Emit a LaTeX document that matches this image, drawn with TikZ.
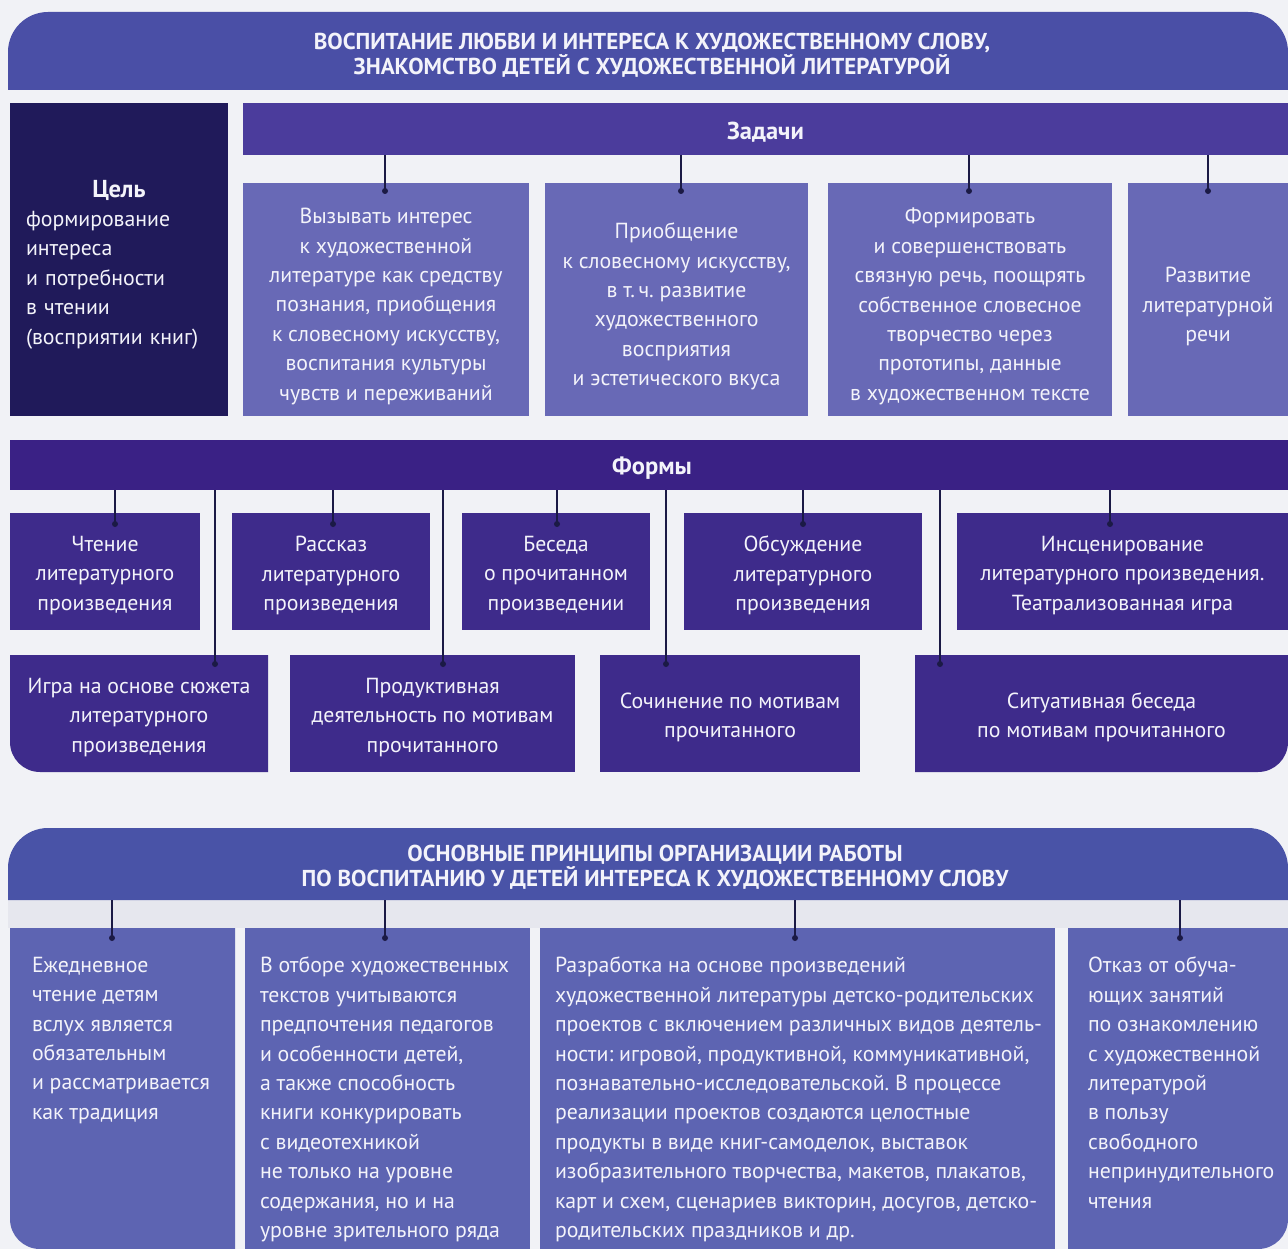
\documentclass[tikz,border=0pt]{standalone}
\usepackage{fontspec}
\setmainfont{PT Sans}
\frenchspacing
\definecolor{hdr}{HTML}{4A4FA6}
\definecolor{goalc}{HTML}{201A5A}
\definecolor{bandc}{HTML}{4B3C9C}
\definecolor{taskc}{HTML}{6869B6}
\definecolor{fbandc}{HTML}{3A2185}
\definecolor{formc}{HTML}{3E2B8B}
\definecolor{phdr}{HTML}{4953A7}
\definecolor{princ}{HTML}{5D64B2}
\definecolor{bgc}{HTML}{F1F2F6}
\definecolor{gapc}{HTML}{E6E7EE}
\definecolor{linec}{HTML}{1B1A45}
\definecolor{txtc}{HTML}{F3F3FA}
\newcommand\bodyfont{\fontsize{21.8}{29.4}\selectfont}
\newcommand\headfont{\bfseries\fontsize{23}{24.5}\selectfont}
\newcommand\labfont{\bfseries\fontsize{24.5}{29}\selectfont}
\def\tshift{5pt}
\tikzset{
  box/.style={fill=#1, inner sep=0pt, outer sep=0pt, anchor=north west},
  btext/.style={inner sep=0pt, outer sep=0pt, text=txtc, align=center, font=\bodyfont},
  ptext/.style={inner sep=0pt, outer sep=0pt, anchor=north west, text=txtc, align=left, font=\bodyfont},
  htext/.style={inner sep=0pt, text=txtc, align=center, font=\headfont},
  ltext/.style={inner sep=0pt, text=txtc, font=\labfont},
  conn/.style={draw=linec, line width=1.8pt},
  dotn/.style={circle, fill=linec, inner sep=0pt, minimum size=6pt},
}
% name, colour, x, y, width, height, text
\newcommand\bx[7]{%
  \node[box=#2, minimum width=#5pt, minimum height=#6pt] (#1) at (#3,#4) {};
  \node[btext] (#1t) at ([yshift=-\tshift]#1.center) {#7};}
\begin{document}
\begin{tikzpicture}[x=1pt,y=1pt]
\fill[bgc] (0,0) rectangle (1288,-1249);
\fill[gapc] (8,-900) rectangle (1288,-928);
% ---------- top header
\fill[hdr] (8,-90) -- (8,-52) arc[start angle=180,end angle=90,radius=40] -- (1248,-12) arc[start angle=90,end angle=0,radius=40] -- (1288,-90) -- cycle;
\node[htext] (title) at (652,-55) {ВОСПИТАНИЕ ЛЮБВИ И ИНТЕРЕСА К ХУДОЖЕСТВЕННОМУ СЛОВУ,\\ЗНАКОМСТВО ДЕТЕЙ С ХУДОЖЕСТВЕННОЙ ЛИТЕРАТУРОЙ};
% ---------- goal
\node[box=goalc, minimum width=218pt, minimum height=313pt] (goal) at (10,-103) {};
\node[btext, text width=186pt, align=left] (goalt) at ([yshift=-5pt]goal.center)
  {\makebox[186pt][c]{\labfont Цель}\\формирование\\интереса\\и потребности\\в чтении\\(восприятии книг)};
% ---------- tasks
\node[box=bandc, minimum width=1045pt, minimum height=52pt] (zad) at (243,-103) {};
\node[ltext] (zadt) at ([yshift=-3pt]zad.center) {Задачи};
\def\tshift{7pt}
\bx{t1}{taskc}{243}{-183}{286}{233}{Вызывать интерес\\к художественной\\литературе как средству\\познания, приобщения\\к словесному искусству,\\воспитания культуры\\чувств и переживаний}
\bx{t2}{taskc}{545}{-183}{263}{233}{Приобщение\\к словесному искусству,\\в т.\,ч. развитие\\художественного\\восприятия\\и эстетического вкуса}
\bx{t3}{taskc}{828}{-183}{284}{233}{Формировать\\и совершенствовать\\связную речь, поощрять\\собственное словесное\\творчество через\\прототипы, данные\\в художественном тексте}
\bx{t4}{taskc}{1128}{-183}{160}{233}{Развитие\\литературной\\речи}
\node[dotn] (t1d) at (385,-191) {};
\node[dotn] (t2d) at (681,-191) {};
\node[dotn] (t3d) at (969,-191) {};
\node[dotn] (t4d) at (1208,-191) {};
\foreach \d in {t1d,t2d,t3d,t4d} \draw[conn] (zad.south -| \d) -- (\d.center);
% ---------- forms
\node[box=fbandc, minimum width=1278pt, minimum height=50pt] (formy) at (10,-440) {};
\node[ltext] (formyt) at ([xshift=3pt,yshift=-3pt]formy.center) {Формы};
\def\tshift{4pt}
\bx{f1}{formc}{10}{-513}{190}{117}{Чтение\\литературного\\произведения}
\bx{f2}{formc}{232}{-513}{198}{117}{Рассказ\\литературного\\произведения}
\bx{f3}{formc}{462}{-513}{188}{117}{Беседа\\о прочитанном\\произведении}
\bx{f4}{formc}{684}{-513}{238}{117}{Обсуждение\\литературного\\произведения}
\bx{f5}{formc}{957}{-513}{331}{117}{Инсценирование\\литературного произведения.\\Театрализованная игра}
\fill[formc] (10,-655) -- (268,-655) -- (268,-772) -- (40,-772) arc[start angle=-90,end angle=-180,radius=30] -- cycle;
\bx{g1}{none}{10}{-655}{258}{117}{Игра на основе сюжета\\литературного\\произведения}
\bx{g2}{formc}{290}{-655}{285}{117}{Продуктивная\\деятельность по мотивам\\прочитанного}
\bx{g3}{formc}{600}{-655}{260}{117}{Сочинение по мотивам\\прочитанного}
\fill[formc] (915,-655) -- (1288,-655) -- (1288,-742) arc[start angle=0,end angle=-90,radius=30] -- (915,-772) -- cycle;
\bx{g4}{none}{915}{-655}{373}{117}{Ситуативная беседа\\по мотивам прочитанного}
\node[dotn] (f1d) at (115,-524) {};
\node[dotn] (f2d) at (333,-524) {};
\node[dotn] (f3d) at (557,-524) {};
\node[dotn] (f4d) at (803,-524) {};
\node[dotn] (f5d) at (1110,-524) {};
\node[dotn] (g1d) at (215,-664) {};
\node[dotn] (g2d) at (443,-664) {};
\node[dotn] (g3d) at (666,-664) {};
\node[dotn] (g4d) at (940,-664) {};
\foreach \d in {f1d,f2d,f3d,f4d,f5d,g1d,g2d,g3d,g4d} \draw[conn] (formy.south -| \d) -- (\d.center);
% ---------- principles
\fill[phdr] (8,-900) -- (8,-868) arc[start angle=180,end angle=90,radius=40] -- (1248,-828) arc[start angle=90,end angle=0,radius=40] -- (1288,-900) -- cycle;
\node[htext] (ptitle) at (655,-867) {ОСНОВНЫЕ ПРИНЦИПЫ ОРГАНИЗАЦИИ РАБОТЫ\\ПО ВОСПИТАНИЮ У ДЕТЕЙ ИНТЕРЕСА К ХУДОЖЕСТВЕННОМУ СЛОВУ};
\coordinate (phb) at (650,-900);
\fill[princ] (10,-928) -- (235,-928) -- (235,-1249) -- (40,-1249) arc[start angle=-90,end angle=-180,radius=30] -- cycle;
\node[box=none, minimum width=225pt, minimum height=321pt] (p1) at (10,-928) {};
\node[box=princ, minimum width=285pt, minimum height=321pt] (p2) at (245,-928) {};
\node[box=princ, minimum width=515pt, minimum height=321pt] (p3) at (540,-928) {};
\fill[princ] (1068,-928) -- (1288,-928) -- (1288,-1219) arc[start angle=0,end angle=-90,radius=30] -- (1068,-1249) -- cycle;
\node[box=none, minimum width=220pt, minimum height=321pt] (p4) at (1068,-928) {};
\node[ptext] (p1t) at (32,-957) {Ежедневное\\чтение детям\\вслух является\\обязательным\\и рассматривается\\как традиция};
\node[ptext] (p2t) at (260,-957) {В отборе художественных\\текстов учитываются\\предпочтения педагогов\\и особенности детей,\\а также способность\\книги конкурировать\\с видеотехникой\\не только на уровне\\содержания, но и на\\уровне зрительного ряда};
\node[ptext] (p3t) at (555,-957) {Разработка на основе произведений\\художественной литературы детско-родительских\\проектов с включением различных видов деятель-\\ности: игровой, продуктивной, коммуникативной,\\познавательно-исследовательской. В процессе\\реализации проектов создаются целостные\\продукты в виде книг-самоделок, выставок\\изобразительного творчества, макетов, плакатов,\\карт и схем, сценариев викторин, досугов, детско-\\родительских праздников и др.};
\node[ptext] (p4t) at (1088,-957) {Отказ от обуча-\\ющих занятий\\по ознакомлению\\с художественной\\литературой\\в пользу\\свободного\\непринудительного\\чтения};
\node[dotn] (p1d) at (112,-938) {};
\node[dotn] (p2d) at (385,-938) {};
\node[dotn] (p3d) at (795,-938) {};
\node[dotn] (p4d) at (1180,-938) {};
\foreach \d in {p1d,p2d,p3d,p4d} \draw[conn] (phb -| \d) -- (\d.center);
\end{tikzpicture}
\end{document}
